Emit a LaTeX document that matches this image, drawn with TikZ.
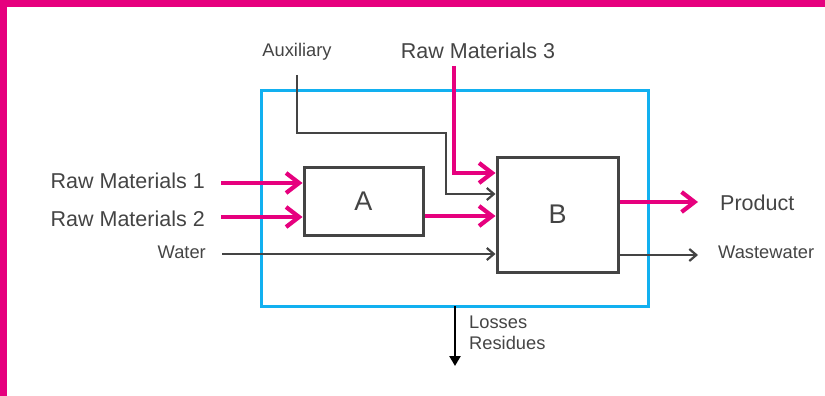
\documentclass[tikz,border=0pt]{standalone}
\usepackage{fontspec}
\setmainfont{Liberation Sans}
\usetikzlibrary{arrows.meta}
\definecolor{mag}{HTML}{E6007E}
\definecolor{sky}{HTML}{12B0F0}
\definecolor{ink}{HTML}{444444}
\begin{document}
\begin{tikzpicture}[x=1pt,y=-1pt,
  txt/.style={inner sep=0pt,text=ink},
  bigtxt/.style={txt,font=\fontsize{21.5}{24}\selectfont},
  smalltxt/.style={txt,font=\fontsize{18.3}{21}\selectfont},
  proc/.style={draw=ink,line width=3pt,inner sep=0pt,font=\fontsize{27}{30}\selectfont,text=ink},
  pinkflow/.style={draw=mag,line width=4.2pt,-{Straight Barb[length=13pt,width=20pt]}},
  greyflow/.style={draw=ink,line width=2.2pt,-{Straight Barb[length=7pt,width=12pt]}},
  blackflow/.style={draw=black,line width=2.4pt,-{Triangle[length=10pt,width=11pt]}}
]
\useasboundingbox (0,0) rectangle (825,396);
\fill[mag] (0,0) rectangle (825,7);
\fill[mag] (0,0) rectangle (7,396);
% system boundary
\node[draw=sky,line width=3pt,minimum width=387pt,minimum height=215pt,inner sep=0pt] (sys) at (454.5,198.5) {};
% process boxes
\node[proc,minimum width=119pt,minimum height=68pt] (A) at (363.5,201) {A};
\node[proc,minimum width=121pt,minimum height=115pt] (B) at (557.5,214.5) {B};
% labels
\node[bigtxt,anchor=east] (rm1) at (205,181) {Raw Materials 1};
\node[bigtxt,anchor=east] (rm2) at (205,219) {Raw Materials 2};
\node[smalltxt,anchor=east] (water) at (206,252) {Water};
\node[smalltxt] (aux) at (297,52) {Auxiliary};
\node[bigtxt] (rm3) at (478,51) {Raw Materials 3};
\node[bigtxt,anchor=west] (prod) at (720,203) {Product};
\node[smalltxt,anchor=west] (ww) at (718,252) {Wastewater};
\node[smalltxt,anchor=west] (loss) at (469,322) {Losses};
\node[smalltxt,anchor=west] (res) at (469,343) {Residues};
% free ends
\coordinate (rm1s) at (221,183);
\coordinate (rm2s) at (221,217);
\coordinate (waters) at (222,254);
\coordinate (rm3s) at (454,66);
\coordinate (auxs) at (297,75);
\coordinate (prode) at (698,202);
\coordinate (wwe) at (698,255);
\coordinate (losss) at (455,306);
\coordinate (losse) at (455,366);
% flows
\draw[pinkflow] (rm1s) -- (rm1s -| A.west);
\draw[pinkflow] (rm2s) -- (rm2s -| A.west);
\draw[pinkflow] ([yshift=-15pt]A.east) -- ([yshift=-15pt]A.east -| B.west);
\draw[pinkflow] (rm3s) -- (454,173) -- (B.west |- 0,173);
\draw[greyflow] (auxs) -- (297,133) -- (446,133) -- (446,194) -- (B.west |- 0,194);
\draw[greyflow] (waters) -- (waters -| B.west);
\draw[pinkflow] (B.east |- prode) -- (prode);
\draw[greyflow] (B.east |- wwe) -- (wwe);
\draw[blackflow] (losss) -- (losse);
\end{tikzpicture}
\end{document}
